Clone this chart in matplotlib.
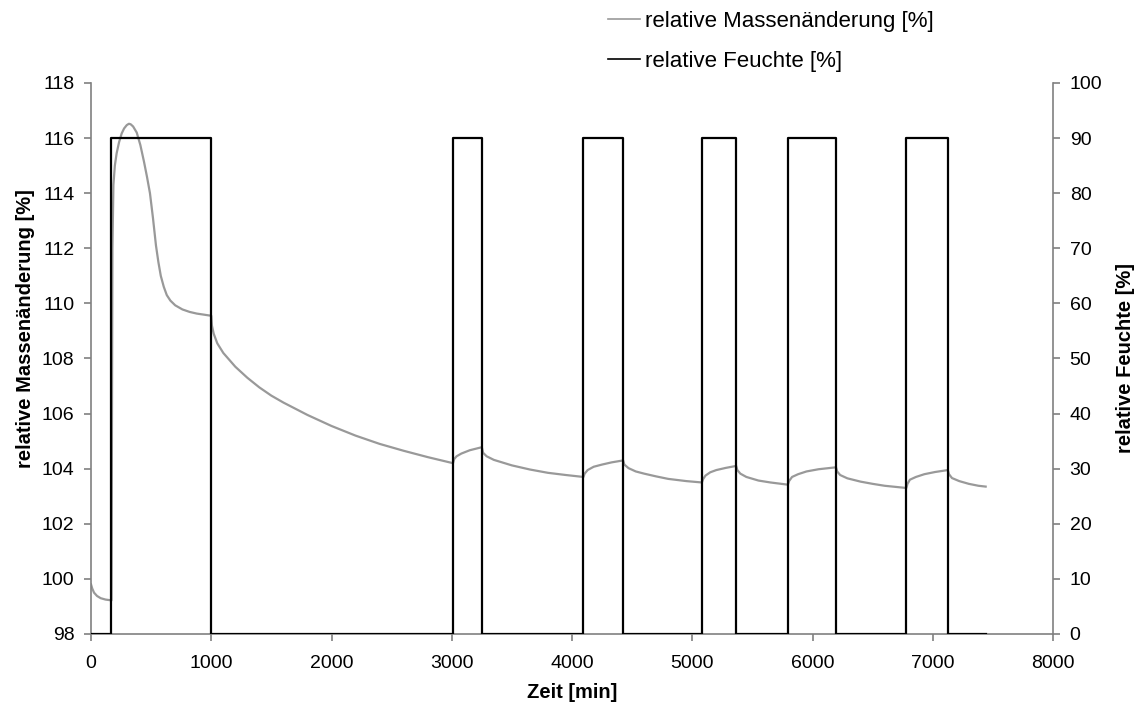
import matplotlib
matplotlib.use("Agg")
import matplotlib.pyplot as plt
from matplotlib.lines import Line2D

plt.rcParams['font.family'] = ['Liberation Sans', 'DejaVu Sans']

# relative humidity steps (time [min], RH [%])
rh_time = [0, 170, 170, 1000, 1000, 3010, 3010, 3250, 3250, 4095, 4095, 4425, 4425,
           5080, 5080, 5365, 5365, 5795, 5795, 6195, 6195, 6780, 6780, 7125, 7125, 7440]
rh_value = [0, 0, 90, 90, 0, 0, 90, 90, 0, 0, 90, 90, 0,
            0, 90, 90, 0, 0, 90, 90, 0, 0, 90, 90, 0, 0]

# relative mass change (time [min], mass [%])
mass_time = [0, 10, 25, 50, 80, 120, 170, 173, 178, 186, 198, 213, 233, 255, 275, 297, 315,
             330, 350, 380, 410, 440, 465, 490, 515, 540, 560, 580, 605, 630,
             660, 700, 760, 820, 879, 940, 1000,
             1005, 1020, 1050, 1100, 1150, 1200, 1300, 1400, 1500, 1600, 1800, 2000, 2200,
             2400, 2600, 2800, 3010,
             3020, 3040, 3080, 3150, 3250, 3260, 3290, 3350, 3500, 3650, 3800, 3950, 4095,
             4105, 4130, 4180, 4250, 4330, 4425, 4435, 4470, 4530, 4600, 4700, 4800, 4950, 5080,
             5090, 5110, 5150, 5200, 5280, 5365, 5375, 5400, 5450, 5550, 5650, 5795,
             5805, 5830, 5880, 5950, 6050, 6195, 6205, 6230, 6290, 6400, 6500, 6600, 6780,
             6790, 6810, 6860, 6930, 7020, 7125, 7135, 7160, 7220, 7300, 7380, 7440]
mass_value = [99.8, 99.65, 99.5, 99.38, 99.3, 99.25, 99.22, 104.0, 112.0, 114.3, 115.0, 115.45,
              115.85, 116.17, 116.35, 116.47, 116.52,
              116.5, 116.42, 116.2, 115.75, 115.15, 114.6, 114.0, 113.1, 112.1, 111.5, 111.0,
              110.6, 110.3, 110.1, 109.93, 109.78, 109.69, 109.63, 109.59, 109.55,
              109.2, 108.9, 108.55, 108.2, 107.95, 107.7, 107.3, 106.95, 106.65, 106.4,
              105.95, 105.55, 105.2, 104.9, 104.65, 104.42, 104.2,
              104.35, 104.45, 104.55, 104.67, 104.78, 104.58, 104.45, 104.32, 104.12,
              103.97, 103.85, 103.77, 103.7,
              103.82, 103.95, 104.07, 104.15, 104.23, 104.3, 104.15, 104.02, 103.9, 103.82,
              103.72, 103.63, 103.55, 103.5,
              103.62, 103.75, 103.87, 103.95, 104.03, 104.1, 103.95, 103.82, 103.7, 103.57,
              103.5, 103.42,
              103.55, 103.7, 103.8, 103.9, 103.98, 104.05, 103.9, 103.77, 103.65, 103.53,
              103.45, 103.38, 103.3,
              103.45, 103.6, 103.7, 103.8, 103.88, 103.95, 103.8, 103.66, 103.55, 103.45,
              103.38, 103.35]

x_ticks = [0, 1000, 2000, 3000, 4000, 5000, 6000, 7000, 8000]
y_left_ticks = [98, 100, 102, 104, 106, 108, 110, 112, 114, 116, 118]
y_right_ticks = [0, 10, 20, 30, 40, 50, 60, 70, 80, 90, 100]

spine_col = '#808080'
fig = plt.figure(figsize=(11.38, 7.11), dpi=100)
ax = fig.add_axes([0.0800, 0.1083, 0.8453, 0.7750])
ax2 = ax.twinx()

ax.plot(mass_time, mass_value, color='#999999', lw=1.6, solid_joinstyle='round')
ax2.plot(rh_time, rh_value, color='black', lw=1.6)

ax.set_xlim(0, 8000)
ax.set_ylim(98, 118)
ax2.set_ylim(0, 100)
ax.set_xticks(x_ticks)
ax.set_yticks(y_left_ticks)
ax2.set_yticks(y_right_ticks)

for a in (ax, ax2):
    a.spines['top'].set_visible(False)
    for s in ('left', 'right', 'bottom'):
        a.spines[s].set_color(spine_col)
        a.spines[s].set_linewidth(1.2)
    a.tick_params(direction='out', length=5, width=1.2, color=spine_col,
                  labelsize=14, labelcolor='black', pad=7)
ax.tick_params(axis='x', pad=10)
ax.spines['right'].set_visible(False)
ax2.spines['left'].set_visible(False)
ax2.spines['bottom'].set_visible(False)

ax.set_xlabel('Zeit [min]', fontsize=14.5, fontweight='bold', labelpad=8)
ax.set_ylabel('relative Massenänderung [%]', fontsize=14.5, fontweight='bold')
ax.yaxis.set_label_coords(-0.058, 0.555)
ax2.set_ylabel('relative Feuchte [%]', fontsize=14.5, fontweight='bold', labelpad=10,
               rotation=90)

handles = [Line2D([], [], color='#999999', lw=1.2),
           Line2D([], [], color='black', lw=1.2)]
fig.legend(handles, ['relative Massenänderung [%]', 'relative Feuchte [%]'],
           loc='upper left', bbox_to_anchor=(608 / 1138, 1 - 11 / 711), frameon=False,
           borderpad=0, borderaxespad=0,
           fontsize=16, handlelength=1.45, handletextpad=0.2, labelspacing=0.85)

fig.savefig('out.png', dpi=100)
